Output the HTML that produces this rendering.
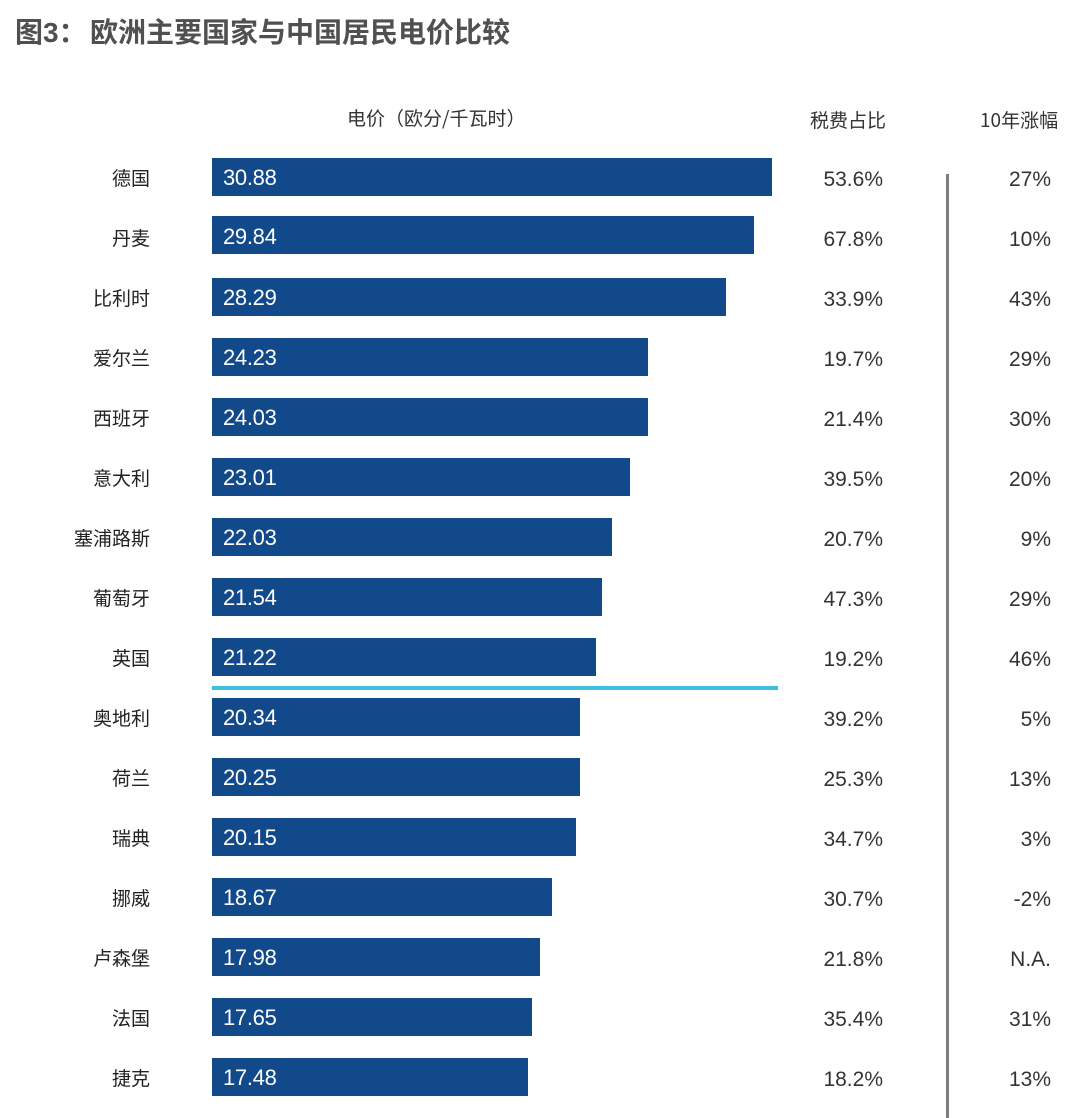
<!DOCTYPE html>
<html><head><meta charset="utf-8">
<style>
html,body{margin:0;padding:0;background:#fff;}
body{width:1076px;height:1118px;position:relative;overflow:hidden;font-family:"Liberation Sans","Noto Sans CJK SC",sans-serif;}
.t{position:absolute;white-space:nowrap;height:30px;line-height:30px;}
.title{position:absolute;left:15px;top:14px;font-family:"Liberation Sans","Noto Sans CJK SC",sans-serif;font-weight:bold;font-size:28px;color:#505050;line-height:38px;white-space:nowrap;}
.hdr{font-family:"Noto Sans CJK SC",sans-serif;font-size:19px;color:#333;}
.lab{font-family:"Noto Sans CJK SC",sans-serif;font-size:19px;color:#222;right:926px;text-align:right;}
.bar{position:absolute;left:212px;height:38px;background:#11498a;}
.val{color:#fff;font-size:22px;left:223px;letter-spacing:-0.3px;}
.tax{font-size:21px;color:#333;right:193px;text-align:right;}
.inc{font-size:21px;color:#333;right:25px;text-align:right;}
</style></head><body>
<div class="title">图3：<span style="position:absolute;left:75px;top:0;">欧洲主要国家与中国居民电价比较</span></div>

<div class="t hdr" style="left:347px;top:103px;">电价（欧分/千瓦时）</div>
<div class="t hdr" style="left:810px;top:105px;">税费占比</div>
<div class="t hdr" style="left:980px;top:105px;">10年涨幅</div>

<div style="position:absolute;left:946px;top:174px;width:3px;height:944px;background:#7d7d84;"></div>
<div style="position:absolute;left:212px;top:686px;width:566px;height:4px;background:#3dbfe0;"></div>

<!-- rows -->
<div class="t lab" style="top:163px;">德国</div><div class="bar" style="top:158px;width:560px;"></div><div class="t val" style="top:163px;">30.88</div><div class="t tax" style="top:165px;">53.6%</div><div class="t inc" style="top:165px;">27%</div>
<div class="t lab" style="top:223px;">丹麦</div><div class="bar" style="top:216px;width:542px;"></div><div class="t val" style="top:222px;">29.84</div><div class="t tax" style="top:225px;">67.8%</div><div class="t inc" style="top:225px;">10%</div>
<div class="t lab" style="top:283px;">比利时</div><div class="bar" style="top:278px;width:514px;"></div><div class="t val" style="top:283px;">28.29</div><div class="t tax" style="top:285px;">33.9%</div><div class="t inc" style="top:285px;">43%</div>
<div class="t lab" style="top:343px;">爱尔兰</div><div class="bar" style="top:338px;width:436px;"></div><div class="t val" style="top:343px;">24.23</div><div class="t tax" style="top:345px;">19.7%</div><div class="t inc" style="top:345px;">29%</div>
<div class="t lab" style="top:403px;">西班牙</div><div class="bar" style="top:398px;width:436px;"></div><div class="t val" style="top:403px;">24.03</div><div class="t tax" style="top:405px;">21.4%</div><div class="t inc" style="top:405px;">30%</div>
<div class="t lab" style="top:463px;">意大利</div><div class="bar" style="top:458px;width:418px;"></div><div class="t val" style="top:463px;">23.01</div><div class="t tax" style="top:465px;">39.5%</div><div class="t inc" style="top:465px;">20%</div>
<div class="t lab" style="top:523px;">塞浦路斯</div><div class="bar" style="top:518px;width:400px;"></div><div class="t val" style="top:523px;">22.03</div><div class="t tax" style="top:525px;">20.7%</div><div class="t inc" style="top:525px;">9%</div>
<div class="t lab" style="top:583px;">葡萄牙</div><div class="bar" style="top:578px;width:390px;"></div><div class="t val" style="top:583px;">21.54</div><div class="t tax" style="top:585px;">47.3%</div><div class="t inc" style="top:585px;">29%</div>
<div class="t lab" style="top:643px;">英国</div><div class="bar" style="top:638px;width:384px;"></div><div class="t val" style="top:643px;">21.22</div><div class="t tax" style="top:645px;">19.2%</div><div class="t inc" style="top:645px;">46%</div>
<div class="t lab" style="top:703px;">奥地利</div><div class="bar" style="top:698px;width:368px;"></div><div class="t val" style="top:703px;">20.34</div><div class="t tax" style="top:705px;">39.2%</div><div class="t inc" style="top:705px;">5%</div>
<div class="t lab" style="top:763px;">荷兰</div><div class="bar" style="top:758px;width:368px;"></div><div class="t val" style="top:763px;">20.25</div><div class="t tax" style="top:765px;">25.3%</div><div class="t inc" style="top:765px;">13%</div>
<div class="t lab" style="top:823px;">瑞典</div><div class="bar" style="top:818px;width:364px;"></div><div class="t val" style="top:823px;">20.15</div><div class="t tax" style="top:825px;">34.7%</div><div class="t inc" style="top:825px;">3%</div>
<div class="t lab" style="top:883px;">挪威</div><div class="bar" style="top:878px;width:340px;"></div><div class="t val" style="top:883px;">18.67</div><div class="t tax" style="top:885px;">30.7%</div><div class="t inc" style="top:885px;">-2%</div>
<div class="t lab" style="top:943px;">卢森堡</div><div class="bar" style="top:938px;width:328px;"></div><div class="t val" style="top:943px;">17.98</div><div class="t tax" style="top:945px;">21.8%</div><div class="t inc" style="top:945px;">N.A.</div>
<div class="t lab" style="top:1003px;">法国</div><div class="bar" style="top:998px;width:320px;"></div><div class="t val" style="top:1003px;">17.65</div><div class="t tax" style="top:1005px;">35.4%</div><div class="t inc" style="top:1005px;">31%</div>
<div class="t lab" style="top:1063px;">捷克</div><div class="bar" style="top:1058px;width:316px;"></div><div class="t val" style="top:1063px;">17.48</div><div class="t tax" style="top:1065px;">18.2%</div><div class="t inc" style="top:1065px;">13%</div>
</body></html>
